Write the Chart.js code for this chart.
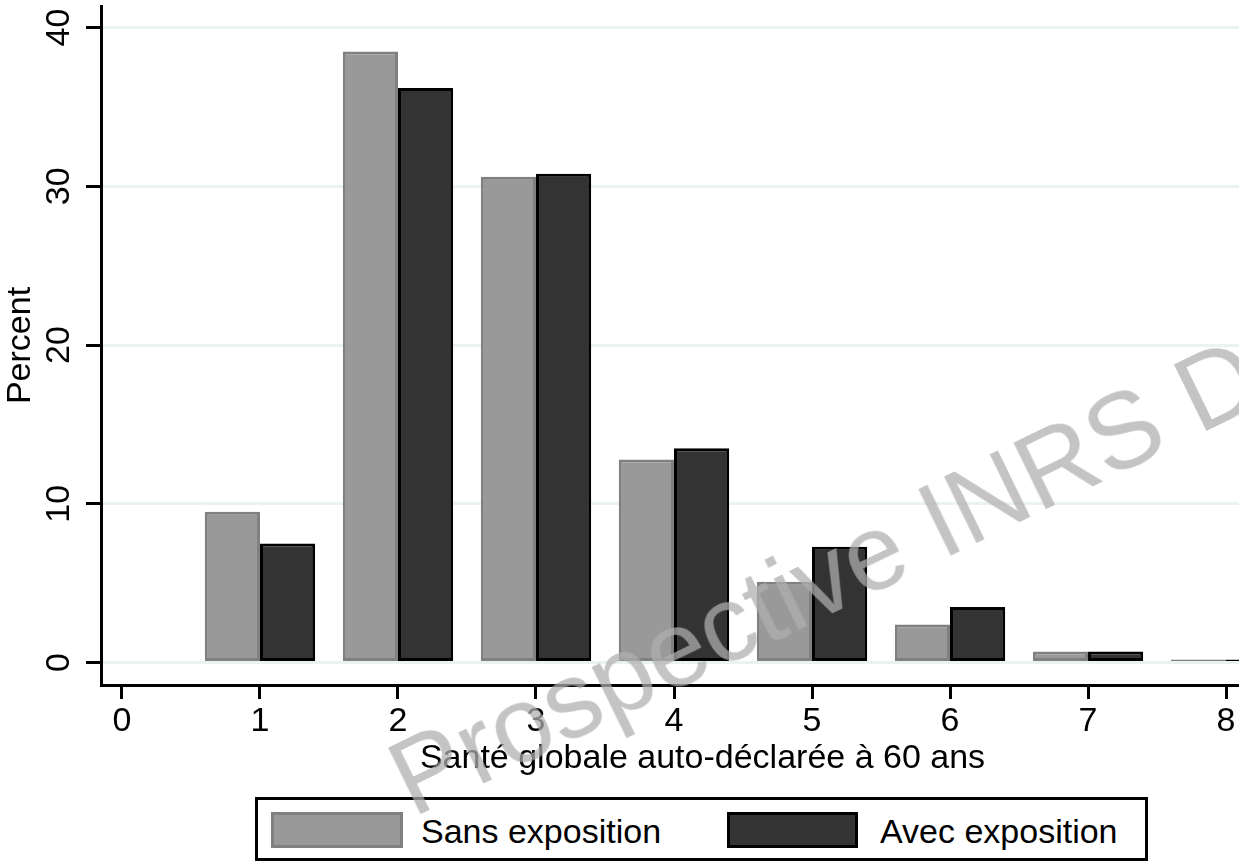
<!DOCTYPE html>
<html>
<head>
<meta charset="utf-8">
<script src="https://cdn.jsdelivr.net/npm/chart.js@4.4.1/dist/chart.umd.min.js"></script>
<style>
  html, body { margin: 0; padding: 0; background: #fff; overflow: hidden; }
  #wrap { position: relative; width: 1239px; height: 862px; overflow: hidden; font-family: "Liberation Sans", Arial, sans-serif; }
  #chart { position: absolute; left: 0; top: 0; }
  #legend { position: absolute; left: 255px; top: 797px; width: 893px; height: 64px; border: 3px solid #000; box-sizing: border-box; background: #fff; }
  .sw { position: absolute; top: 12px; height: 36px; box-sizing: border-box; border: 3px solid; }
  .lt { position: absolute; top: 14px; font-size: 34px; line-height: 1; color: #000; white-space: nowrap; }
  #wm { position: absolute; left: 413px; top: 728px; font-size: 107px; line-height: 1; white-space: nowrap;
        color: rgba(174,174,174,0.73); transform-origin: 0 0.8465em; transform: rotate(-26deg); pointer-events: none; }
</style>
</head>
<body>
<div id="wrap">
  <canvas id="chart" width="1304" height="862"></canvas>
  <div id="legend"></div>
  <div id="wm">Prospective INRS D</div>
</div>
<script>
const categories = [1, 2, 3, 4, 5, 6, 7, 8];
const sansExposition = [9.5, 38.5, 30.6, 12.8, 5.1, 2.4, 0.7, 0.2];
const avecExposition = [7.5, 36.2, 30.8, 13.5, 7.3, 3.5, 0.7, 0.2];
const seriesNames = ['Sans exposition', 'Avec exposition'];
const xTicks = [0, 1, 2, 3, 4, 5, 6, 7, 8];
const yTicks = [0, 10, 20, 30, 40];
const xTitle = 'Santé globale auto-déclarée à 60 ans';
const yTitle = 'Percent';

const FAMILY = '"Liberation Sans", Arial, sans-serif';
const fillColors = ['#999999', '#333333'];
const borderColors = ['#808080', '#000000'];

const toPoints = vals => categories.map((c, i) => ({ x: c, y: vals[i] }));

new Chart(document.getElementById('chart'), {
  type: 'bar',
  data: {
    datasets: [sansExposition, avecExposition].map((vals, k) => ({
      label: seriesNames[k],
      data: toPoints(vals),
      backgroundColor: fillColors[k],
      borderColor: borderColors[k],
      borderWidth: 3,
      borderSkipped: false,
      categoryPercentage: 0.8,
      barPercentage: 1.0
    }))
  },
  options: {
    responsive: false,
    animation: false,
    devicePixelRatio: 1,
    layout: { padding: { top: 6, left: 0, right: 0, bottom: 0 } },
    plugins: { legend: { display: false }, tooltip: { enabled: false } },
    scales: {
      x: {
        type: 'linear',
        min: -0.152,
        max: 8.565,
        offset: false,
        afterBuildTicks: s => { s.ticks = xTicks.map(v => ({ value: v })); },
        afterFit: s => { s.height = 177; s.paddingLeft = 0; s.paddingRight = 0; },
        grid: { offset: false, drawOnChartArea: false, drawTicks: true, tickLength: 14, tickColor: '#000', tickWidth: 3 },
        border: { display: true, color: '#000', width: 3 },
        ticks: { font: { family: FAMILY, size: 34 }, color: '#000', padding: 2, minRotation: 0, maxRotation: 0, autoSkip: false },
        title: { display: true, text: xTitle, color: '#000', font: { family: FAMILY, size: 34, lineHeight: 1.2 }, padding: { top: 0, bottom: 83 } }
      },
      y: {
        type: 'linear',
        min: -1.41,
        max: 41.36,
        afterBuildTicks: s => { s.ticks = yTicks.map(v => ({ value: v })); },
        afterFit: s => { s.width = 101; s.paddingTop = 0; s.paddingBottom = 0; },
        grid: { color: '#eaf2f3', lineWidth: 3, drawTicks: true, tickLength: 15, tickColor: '#000', tickWidth: 3 },
        border: { display: true, color: '#000', width: 3 },
        ticks: { font: { family: FAMILY, size: 34 }, color: '#000', padding: 7, minRotation: 90, maxRotation: 90, crossAlign: 'center' },
        title: { display: true, text: yTitle, color: '#000', font: { family: FAMILY, size: 34, lineHeight: 1.2 }, padding: { top: 0, bottom: 0 } }
      }
    }
  }
});

// HTML legend built from the series
const legend = document.getElementById('legend');
const swLeft = [13, 469], swWidth = [132, 131], txtLeft = [163, 622];
seriesNames.forEach((name, k) => {
  const sw = document.createElement('div');
  sw.className = 'sw';
  sw.style.left = swLeft[k] + 'px';
  sw.style.width = swWidth[k] + 'px';
  sw.style.background = fillColors[k];
  sw.style.borderColor = borderColors[k];
  legend.appendChild(sw);
  const t = document.createElement('div');
  t.className = 'lt';
  t.style.left = txtLeft[k] + 'px';
  t.textContent = name;
  legend.appendChild(t);
});
</script>
</body>
</html>
